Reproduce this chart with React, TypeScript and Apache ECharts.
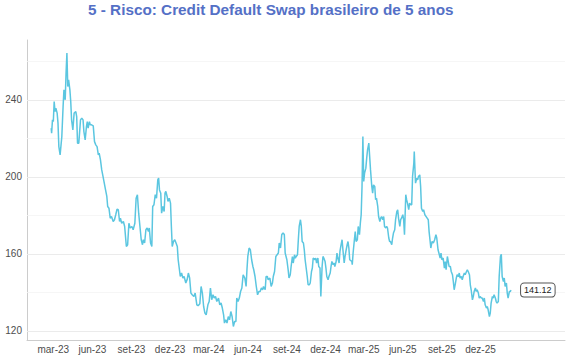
import React, { useEffect, useRef } from "react";
import * as echarts from "echarts";

const chartTitle = "5 - Risco: Credit Default Swap brasileiro de 5 anos";

const dates = [
  "2023-02-24","2023-02-25","2023-02-27","2023-03-01","2023-03-03","2023-03-05","2023-03-07","2023-03-10","2023-03-12","2023-03-14",
  "2023-03-17","2023-03-21","2023-03-24","2023-03-26","2023-03-29","2023-03-31","2023-04-02","2023-04-04","2023-04-06","2023-04-09",
  "2023-04-11","2023-04-13","2023-04-16","2023-04-19","2023-04-23","2023-04-25","2023-04-27","2023-04-30","2023-05-04","2023-05-07",
  "2023-05-10","2023-05-12","2023-05-15","2023-05-18","2023-05-20","2023-05-22","2023-05-25","2023-05-27","2023-05-30","2023-06-03",
  "2023-06-06","2023-06-09","2023-06-12","2023-06-15","2023-06-17","2023-06-20","2023-06-23","2023-06-26","2023-06-29","2023-07-02",
  "2023-07-05","2023-07-07","2023-07-10","2023-07-13","2023-07-16","2023-07-20","2023-07-23","2023-07-26","2023-07-29","2023-08-01",
  "2023-08-04","2023-08-06","2023-08-09","2023-08-13","2023-08-16","2023-08-20","2023-08-23","2023-08-26","2023-08-29","2023-09-02",
  "2023-09-05","2023-09-09","2023-09-12","2023-09-15","2023-09-18","2023-09-21","2023-09-24","2023-09-27","2023-09-29","2023-10-02",
  "2023-10-05","2023-10-08","2023-10-11","2023-10-13","2023-10-16","2023-10-19","2023-10-21","2023-10-24","2023-10-27","2023-10-30",
  "2023-11-02","2023-11-04","2023-11-06","2023-11-09","2023-11-11","2023-11-14","2023-11-17","2023-11-19","2023-11-21","2023-11-24",
  "2023-11-26","2023-11-29","2023-12-02","2023-12-04","2023-12-06","2023-12-09","2023-12-12","2023-12-15","2023-12-18","2023-12-20",
  "2023-12-23","2023-12-25","2023-12-28","2023-12-31","2024-01-03","2024-01-07","2024-01-10","2024-01-13","2024-01-16","2024-01-19",
  "2024-01-22","2024-01-26","2024-01-29","2024-02-02","2024-02-05","2024-02-09","2024-02-12","2024-02-15","2024-02-18","2024-02-21",
  "2024-02-24","2024-02-28","2024-03-02","2024-03-05","2024-03-08","2024-03-11","2024-03-14","2024-03-17","2024-03-20","2024-03-24",
  "2024-03-27","2024-03-30","2024-04-02","2024-04-05","2024-04-07","2024-04-10","2024-04-13","2024-04-16","2024-04-19","2024-04-22",
  "2024-04-25","2024-04-28","2024-05-01","2024-05-04","2024-05-06","2024-05-09","2024-05-12","2024-05-15","2024-05-18","2024-05-21",
  "2024-05-25","2024-05-28","2024-05-30","2024-06-01","2024-06-04","2024-06-07","2024-06-10","2024-06-13","2024-06-15","2024-06-18",
  "2024-06-21","2024-06-24","2024-06-27","2024-06-30","2024-07-03","2024-07-06","2024-07-08","2024-07-12","2024-07-14","2024-07-17",
  "2024-07-19","2024-07-23","2024-07-26","2024-07-29","2024-07-31","2024-08-03","2024-08-06","2024-08-09","2024-08-12","2024-08-14",
  "2024-08-17","2024-08-20","2024-08-23","2024-08-26","2024-08-28","2024-09-01","2024-09-04","2024-09-06","2024-09-09","2024-09-11",
  "2024-09-14","2024-09-16","2024-09-19","2024-09-21","2024-09-23","2024-09-26","2024-09-28","2024-09-30","2024-10-03","2024-10-05",
  "2024-10-07","2024-10-10","2024-10-12","2024-10-14","2024-10-17","2024-10-19","2024-10-21","2024-10-24","2024-10-26","2024-10-29",
  "2024-10-31","2024-11-02","2024-11-06","2024-11-08","2024-11-10","2024-11-13","2024-11-15","2024-11-18","2024-11-20","2024-11-23",
  "2024-11-25","2024-11-27","2024-11-30","2024-12-02","2024-12-04","2024-12-07","2024-12-09","2024-12-12","2024-12-14","2024-12-16",
  "2024-12-19","2024-12-21","2024-12-23","2024-12-26","2024-12-28","2024-12-30","2025-01-02","2025-01-04","2025-01-06","2025-01-09",
  "2025-01-11","2025-01-14","2025-01-16","2025-01-18","2025-01-21","2025-01-23","2025-01-25","2025-01-27","2025-02-01","2025-02-02",
  "2025-02-04","2025-02-07","2025-02-09","2025-02-11","2025-02-14","2025-02-16","2025-02-19","2025-02-21","2025-02-23","2025-02-25",
  "2025-02-27","2025-03-01","2025-03-03","2025-03-06","2025-03-08","2025-03-10","2025-03-13","2025-03-15","2025-03-17","2025-03-20",
  "2025-03-22","2025-03-24","2025-03-27","2025-03-29","2025-03-31","2025-04-03","2025-04-05","2025-04-08","2025-04-10","2025-04-12",
  "2025-04-15","2025-04-17","2025-04-19","2025-04-22","2025-04-24","2025-04-26","2025-04-29","2025-05-01","2025-05-03","2025-05-06",
  "2025-05-08","2025-05-10","2025-05-13","2025-05-15","2025-05-18","2025-05-20","2025-05-22","2025-05-25","2025-05-27","2025-05-29",
  "2025-06-01","2025-06-03","2025-06-05","2025-06-08","2025-06-10","2025-06-12","2025-06-15","2025-06-17","2025-06-20","2025-06-22",
  "2025-06-24","2025-06-27","2025-06-28","2025-06-30","2025-07-01","2025-07-04","2025-07-06","2025-07-08","2025-07-11","2025-07-13",
  "2025-07-15","2025-07-18","2025-07-20","2025-07-23","2025-07-28","2025-07-31","2025-08-02","2025-08-04","2025-08-06","2025-08-09",
  "2025-08-12","2025-08-15","2025-08-18","2025-08-20","2025-08-23","2025-08-25","2025-08-28","2025-08-30","2025-09-01","2025-09-04",
  "2025-09-07","2025-09-09","2025-09-11","2025-09-14","2025-09-16","2025-09-18","2025-09-21","2025-09-23","2025-09-26","2025-09-28",
  "2025-09-30","2025-10-03","2025-10-05","2025-10-07","2025-10-10","2025-10-12","2025-10-14","2025-10-17","2025-10-19","2025-10-21",
  "2025-10-24","2025-10-26","2025-10-29","2025-10-31","2025-11-02","2025-11-05","2025-11-07","2025-11-09","2025-11-12","2025-11-14",
  "2025-11-16","2025-11-19","2025-11-21","2025-11-23","2025-11-26","2025-11-28","2025-11-30","2025-12-03","2025-12-05","2025-12-08",
  "2025-12-10","2025-12-12","2025-12-15","2025-12-17","2025-12-19","2025-12-22","2025-12-24","2025-12-26","2025-12-29","2025-12-31",
  "2026-01-02","2026-01-05","2026-01-07","2026-01-09","2026-01-12","2026-01-14","2026-01-17","2026-01-19","2026-01-21","2026-01-24",
  "2026-01-26","2026-01-28","2026-01-31","2026-02-02","2026-02-04","2026-02-07","2026-02-09","2026-02-11"
];

const cdsValues = [
  225.3,222.7,229.6,228.7,239.1,233.9,235.7,233.1,227.9,215.7,
  211.4,220.9,236.5,245.2,240.0,253.9,264.3,246.9,250.4,245.2,
  239.1,229.6,224.4,233.1,233.9,231.3,217.5,217.5,229.6,230.5,
  229.6,223.5,219.2,226.1,228.7,225.3,228.7,227.0,227.0,226.5,
  218.3,216.6,215.7,211.4,212.3,208.8,203.6,200.2,196.7,193.2,
  189.8,184.6,183.7,178.5,179.4,176.8,177.7,180.3,183.2,182.9,
  176.8,178.5,175.9,176.8,174.2,163.8,164.7,175.9,173.4,174.2,
  172.5,175.9,188.9,190.7,181.1,174.2,167.3,164.7,167.3,165.6,
  172.5,173.4,171.6,173.4,165.6,163.8,184.6,185.5,190.7,188.9,
  198.4,199.3,193.2,191.5,181.1,184.6,182.0,191.5,192.4,189.8,
  187.2,188.9,186.3,174.2,163.8,166.4,167.3,165.6,163.8,156.9,
  151.7,148.2,150.0,147.4,148.2,144.8,146.5,150.0,147.4,139.6,
  138.7,137.8,139.6,133.5,133.0,134.0,143.0,139.6,132.6,129.2,
  128.3,133.5,135.2,142.2,136.1,138.7,137.0,137.8,135.2,137.0,
  133.5,134.4,131.8,128.3,124.0,125.7,124.0,127.4,125.7,130.0,
  127.4,122.2,124.8,124.8,137.0,135.2,137.0,140.4,142.2,149.1,
  147.4,143.0,151.7,158.6,163.0,162.1,156.9,153.4,151.7,148.2,
  143.0,138.7,140.4,140.4,142.2,141.3,143.0,141.3,148.2,148.2,
  146.5,147.4,143.0,144.8,148.2,150.8,158.6,159.5,160.4,165.6,
  163.0,170.0,170.8,170.0,160.4,156.9,151.7,147.4,149.1,153.4,
  158.6,155.2,159.5,157.8,158.6,159.5,167.3,174.2,177.7,174.2,
  166.4,165.6,162.1,156.9,151.7,148.2,143.9,143.9,144.8,150.8,
  152.6,157.8,156.9,157.8,155.2,157.8,153.4,152.6,137.8,153.4,
  158.6,157.8,156.0,152.6,148.2,146.5,148.2,150.0,153.4,156.0,
  154.3,155.2,153.4,156.0,160.4,157.8,155.2,161.2,163.8,167.3,
  162.1,155.2,158.6,161.2,164.7,166.4,163.0,156.9,156.0,154.3,
  160.4,167.3,171.6,166.4,167.3,174.2,169.9,175.9,180.3,195.0,
  220.9,197.6,201.9,204.5,209.7,214.0,217.5,210.5,203.6,195.0,
  191.5,195.8,195.0,188.1,188.9,184.6,179.4,176.8,178.5,179.4,
  177.7,179.4,174.2,173.4,174.2,173.4,168.2,166.4,166.4,164.7,
  168.2,170.8,172.5,177.7,182.0,182.9,178.5,174.2,177.7,178.5,
  180.3,177.7,169.9,190.7,188.1,186.3,182.9,186.3,185.5,185.5,
  200.2,207.1,213.1,201.9,196.7,199.3,198.4,200.2,201.0,195.0,
  183.7,182.0,182.9,180.3,178.7,177.7,171.4,167.3,163.0,166.4,
  165.6,167.3,169.9,168.2,162.1,160.4,157.8,160.4,156.9,157.8,
  152.6,156.0,151.7,158.6,156.0,153.4,153.4,150.8,149.1,145.6,
  141.3,144.8,147.4,149.1,148.2,150.0,147.4,148.2,146.5,148.2,
  150.0,149.1,150.8,151.7,150.8,149.1,143.9,141.3,136.1,137.8,
  140.4,142.2,140.4,141.3,139.6,137.0,137.8,137.0,137.0,135.2,
  137.0,133.5,131.8,132.6,130.9,127.4,129.2,134.4,137.8,137.0,
  138.7,137.0,135.2,134.4,135.2,148.2,158.6,159.8,148.2,145.6,
  147.4,143.0,144.8,139.6,137.0,140.4,140.4,141.12
];

const xTickDates = [
  "2023-03-01","2023-06-01","2023-09-01","2023-12-01",
  "2024-03-01","2024-06-01","2024-09-01","2024-12-01",
  "2025-03-01","2025-06-01","2025-09-01","2025-12-01"
];
const xRange = ["2022-12-29", "2026-06-18"];
const yRange = [115.2, 271.1];
const yMajorTicks = [120, 160, 200, 240];
const yMinorTicks = [140, 180, 220, 260];
const monthNames = ["jan","fev","mar","abr","mai","jun","jul","ago","set","out","nov","dez"];

function toTime(s: string): number {
  const [y, m, d] = s.split("-").map(Number);
  return new Date(y, m - 1, d).getTime();
}

export default function App() {
  const ref = useRef<HTMLDivElement>(null);
  useEffect(() => {
    document.body.style.margin = "0";
    const chart = echarts.init(ref.current!, null, { renderer: "svg" });
    const data = dates.map((d, i) => [toTime(d), cdsValues[i]]);
    const font = "Liberation Sans";
    chart.setOption({
      animation: false,
      title: {
        text: chartTitle,
        left: 88,
        top: 2,
        padding: 0,
        textStyle: { fontFamily: font, fontWeight: "bold", fontSize: 15.3, color: "#5470c6" },
      },
      grid: { left: 27, right: 5, top: 40, bottom: 20, outerBoundsMode: "none" },
      xAxis: {
        type: "value",
        min: toTime(xRange[0]),
        max: toTime(xRange[1]),
        axisLine: { show: true, lineStyle: { color: "#cccccc", width: 1 } },
        axisTick: { show: false },
        splitLine: { show: false },
        axisLabel: {
          customValues: xTickDates.map(toTime),
          formatter: (v: number) => {
            const d = new Date(v);
            return monthNames[d.getMonth()] + "-" + String(d.getFullYear()).slice(2);
          },
          color: "#4d4d4d",
          fontSize: 10,
          fontFamily: font,
          margin: 4,
          hideOverlap: false,
          showMinLabel: true,
          showMaxLabel: true,
        },
      },
      yAxis: {
        type: "value",
        min: yRange[0],
        max: yRange[1],
        axisLine: { show: true, lineStyle: { color: "#cccccc", width: 1 } },
        axisTick: { show: false },
        splitLine: { show: false },
        axisLabel: {
          customValues: yMajorTicks,
          color: "#4d4d4d",
          fontSize: 10,
          fontFamily: font,
          margin: 5,
          showMinLabel: true,
          showMaxLabel: true,
        },
      },
      series: [
        {
          type: "line",
          data,
          symbol: "none",
          showSymbol: false,
          z: 3,
          lineStyle: { color: "#5bc6e0", width: 1.5 },
          endLabel: {
            show: true,
            formatter: (p: any) => Number(p.value[1]).toFixed(2),
            distance: 10,
            fontSize: 9,
            fontFamily: font,
            color: "#222222",
            backgroundColor: "#ffffff",
            borderColor: "#555555",
            borderWidth: 1,
            borderRadius: 3,
            padding: [2, 3, 2, 3],
          },
          markLine: {
            silent: true,
            z: 1,
            symbol: ["none", "none"],
            label: { show: false },
            lineStyle: { type: "solid" },
            data: [
              ...yMajorTicks.map((v) => ({ yAxis: v, lineStyle: { color: "#ebebeb", width: 1, type: "solid" } })),
              ...yMinorTicks.map((v) => ({ yAxis: v, lineStyle: { color: "#f4f4f4", width: 0.8, type: "solid" } })),
            ],
          },
        },
      ],
    });
    return () => chart.dispose();
  }, []);
  return <div ref={ref} style={{ width: 570, height: 360 }} />;
}
